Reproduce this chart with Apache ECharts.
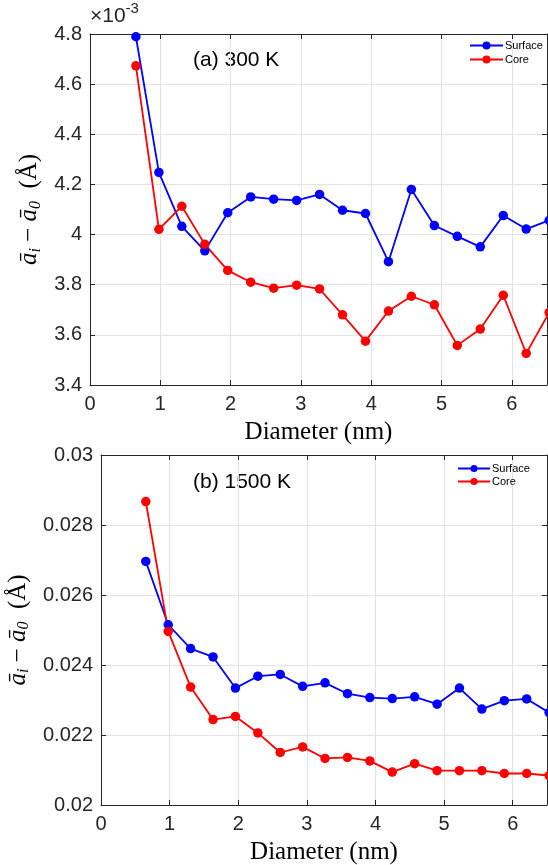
<!DOCTYPE html>
<html>
<head>
<meta charset="utf-8">
<title>Lattice parameter deviation vs diameter</title>
<script src="https://cdn.jsdelivr.net/npm/echarts@6/dist/echarts.min.js"></script>
<style>
  html, body { margin: 0; padding: 0; background: #ffffff; overflow: hidden; }
  #chart { width: 548px; height: 865px; }
</style>
</head>
<body>
<div id="chart"></div>
<script>
// Nanoparticle diameters (nm)
const diameterNm = [0.653, 0.980, 1.306, 1.633, 1.959, 2.286, 2.612, 2.939, 3.265, 3.592,
                    3.918, 4.245, 4.571, 4.898, 5.224, 5.551, 5.878, 6.204, 6.531];

// (a) 300 K, values in units of 1e-3 Å (axis carries the ×10^-3 multiplier)
const surface300 = [4.789, 4.248, 4.033, 3.935, 4.087, 4.150, 4.141, 4.136, 4.160, 4.097,
                    4.084, 3.892, 4.180, 4.036, 3.993, 3.951, 4.076, 4.022, 4.057];
const core300    = [4.673, 4.021, 4.113, 3.961, 3.857, 3.810, 3.786, 3.798, 3.783, 3.680,
                    3.575, 3.695, 3.754, 3.720, 3.558, 3.623, 3.758, 3.526, 3.689];

// (b) 1500 K, values in Å
const surface1500 = [0.02696, 0.02515, 0.02447, 0.02423, 0.02334, 0.02368, 0.02373, 0.02339, 0.02349, 0.02318,
                     0.02307, 0.02304, 0.02309, 0.02288, 0.02334, 0.02274, 0.02298, 0.02303, 0.02264];
const core1500    = [0.02867, 0.02496, 0.02337, 0.02244, 0.02253, 0.02206, 0.02150, 0.02166, 0.02133, 0.02136,
                     0.02126, 0.02094, 0.02118, 0.02098, 0.02098, 0.02098, 0.02090, 0.02090, 0.02084];

const xTicks = { min: 0, max: 6.5, interval: 1 };
const yTicks300 = { min: 3.4, max: 4.8, interval: 0.2 };
const yTicks1500 = { min: 0.02, max: 0.03, interval: 0.002 };

const AXIS = '#262626';
const GRIDLINE = '#e3e3e3';
const SANS = '"Liberation Sans", Arial, Helvetica, sans-serif';
const SERIF = '"Liberation Serif", "DejaVu Serif", serif';

const pairs = (xs, ys) => xs.map((x, i) => [x, ys[i]]);

const yNameRich = {
  a:   { fontFamily: SERIF, fontStyle: 'italic', fontSize: 25, color: '#000' },
  sub: { fontFamily: SERIF, fontStyle: 'italic', fontSize: 16, color: '#000', padding: [11, 0, 0, 0] },
  n:   { fontFamily: SERIF, fontSize: 25, color: '#000' }
};
const yName = '{a|ā}{sub|i}{n| − }{a|ā}{sub|0}{n|  (Å)}';

function mainX(gridIndex) {
  return {
    type: 'value', gridIndex, ...xTicks,
    name: 'Diameter (nm)', nameLocation: 'middle', nameGap: 35,
    nameTextStyle: { fontFamily: SERIF, fontSize: 25, color: '#000' },
    axisLine: { show: true, onZero: false, lineStyle: { color: AXIS, width: 1 } },
    axisTick: { show: true, inside: true, length: 5, lineStyle: { color: AXIS } },
    axisLabel: { fontFamily: SANS, fontSize: 20, color: AXIS, margin: 9, showMaxLabel: false },
    splitLine: { show: true, lineStyle: { color: GRIDLINE, width: 1 } }
  };
}
function mirrorX(gridIndex) {
  return {
    type: 'value', gridIndex, position: 'top', ...xTicks,
    axisLine: { show: true, onZero: false, lineStyle: { color: AXIS, width: 1 } },
    axisTick: { show: true, inside: true, length: 5, lineStyle: { color: AXIS } },
    axisLabel: { show: false }, splitLine: { show: false }
  };
}
function mainY(gridIndex, ticks, fmt, gap) {
  return {
    type: 'value', gridIndex, ...ticks,
    name: yName, nameLocation: 'middle', nameRotate: 90, nameGap: gap,
    nameTextStyle: { rich: yNameRich },
    axisLine: { show: true, onZero: false, lineStyle: { color: AXIS, width: 1 } },
    axisTick: { show: true, inside: true, length: 5, lineStyle: { color: AXIS } },
    axisLabel: { fontFamily: SANS, fontSize: 20, color: AXIS, margin: 8, formatter: fmt },
    splitLine: { show: true, lineStyle: { color: GRIDLINE, width: 1 } }
  };
}
function mirrorY(gridIndex, ticks) {
  return {
    type: 'value', gridIndex, position: 'right', ...ticks,
    axisLine: { show: true, onZero: false, lineStyle: { color: AXIS, width: 1 } },
    axisTick: { show: true, inside: true, length: 5, lineStyle: { color: AXIS } },
    axisLabel: { show: false }, splitLine: { show: false }
  };
}
function lineSeries(name, color, xIdx, yIdx, ys) {
  return {
    type: 'line', name, xAxisIndex: xIdx, yAxisIndex: yIdx,
    data: pairs(diameterNm, ys),
    symbol: 'circle', symbolSize: 9.5, clip: false,
    itemStyle: { color }, lineStyle: { color, width: 1.8 }
  };
}

const chart = echarts.init(document.getElementById('chart'), null, { renderer: 'canvas' });
chart.setOption({
  animation: false,
  backgroundColor: '#ffffff',
  grid: [
    { left: 90, top: 34, width: 457, height: 351, containLabel: false, outerBoundsMode: 'none' },
    { left: 101, top: 455, width: 446, height: 350, containLabel: false, outerBoundsMode: 'none' }
  ],
  xAxis: [mainX(0), mainX(1), mirrorX(0), mirrorX(1)],
  yAxis: [
    mainY(0, yTicks300, v => String(+v.toFixed(1)), 46),
    mainY(1, yTicks1500, v => String(+v.toFixed(3)), 62),
    mirrorY(0, yTicks300),
    mirrorY(1, yTicks1500)
  ],
  legend: [
    {
      orient: 'vertical', left: 469, top: 40, padding: 0, itemWidth: 33, itemHeight: 10, itemGap: 3,
      data: ['Surface', 'Core'], selectedMode: false,
      textStyle: { fontFamily: SANS, fontSize: 11, color: '#000', padding: [0, 0, 0, -3] }
    },
    {
      orient: 'vertical', left: 457, top: 463, padding: 0, itemWidth: 32, itemHeight: 9, itemGap: 2,
      data: ['Surface', 'Core'], selectedMode: false,
      textStyle: { fontFamily: SANS, fontSize: 11, color: '#000', padding: [0, 0, 0, -3] }
    }
  ],
  graphic: [
    {
      type: 'text', left: 90, top: 1,
      style: {
        text: '{m|×10}{s|-3}',
        rich: {
          m: { fontFamily: SANS, fontSize: 21, fill: AXIS, padding: [8, 0, 0, 0] },
          s: { fontFamily: SANS, fontSize: 15, fill: AXIS, padding: [0, 0, 8, 0] }
        }
      }
    },
    {
      type: 'text', left: 193, top: 50,
      style: { text: '(a) 300 K', font: '21px ' + SANS, fill: '#000' }
    },
    {
      type: 'text', left: 193, top: 472,
      style: { text: '(b) 1500 K', font: '21px ' + SANS, fill: '#000' }
    }
  ],
  series: [
    lineSeries('Surface', '#0000ff', 0, 0, surface300),
    lineSeries('Core', '#ff0000', 0, 0, core300),
    lineSeries('Surface', '#0000ff', 1, 1, surface1500),
    lineSeries('Core', '#ff0000', 1, 1, core1500)
  ]
});
</script>
</body>
</html>
